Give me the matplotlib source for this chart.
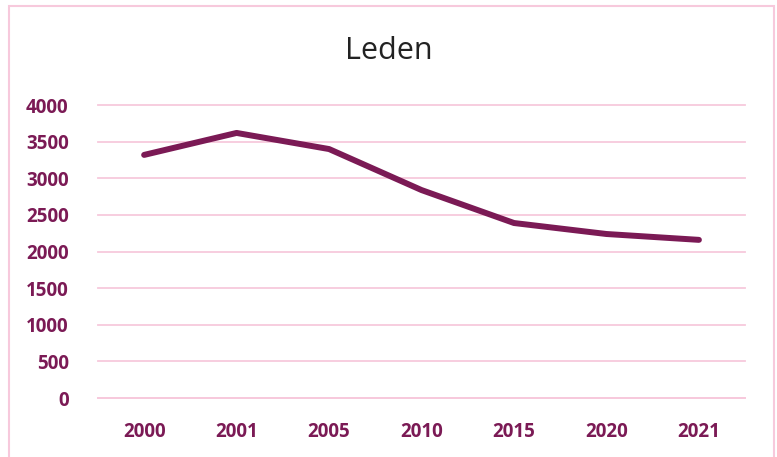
import matplotlib
matplotlib.use("Agg")
import matplotlib.pyplot as plt
from matplotlib.patches import Rectangle

# data
years = ["2000", "2001", "2005", "2010", "2015", "2020", "2021"]
leden = [3320, 3620, 3400, 2840, 2390, 2240, 2160]
yticks = [0, 500, 1000, 1500, 2000, 2500, 3000, 3500, 4000]

line_col = "#7B1A55"
grid_col = "#F7C9DC"

fig = plt.figure(figsize=(7.77, 4.57), dpi=100)
ax = fig.add_axes([0.126, 0.129, 0.833, 0.641])

x = range(len(years))
ax.plot(x, leden, color=line_col, linewidth=4.3, solid_capstyle="round", solid_joinstyle="round", zorder=3)

ax.set_xlim(-0.5, len(years) - 0.5)
ax.set_ylim(0, 4000)
ax.set_yticks(yticks)
ax.set_xticks(list(x))
ax.set_xticklabels(years)
ax.grid(axis="y", color=grid_col, linewidth=1.3, clip_on=False)
ax.set_axisbelow(True)
for s in ax.spines.values():
    s.set_visible(False)
ax.spines["bottom"].set_visible(True)
ax.spines["bottom"].set_color(grid_col)
ax.spines["bottom"].set_linewidth(1.3)
ax.tick_params(length=0, labelsize=13.5, labelcolor=line_col, pad=21)
ax.tick_params(axis="x", pad=17)
for lab in ax.get_xticklabels() + ax.get_yticklabels():
    lab.set_fontweight("bold")
    lab.set_family("Open Sans")

fig.text(0.5, 0.888, "Leden", ha="center", va="center", fontsize=22, family="Open Sans", color="#222222")

# outer border
fig.patches.append(Rectangle((9 / 777, -0.02), 765 / 777, 1.02 - 6 / 457, transform=fig.transFigure,
                             fill=False, edgecolor=grid_col, linewidth=1.5))

fig.savefig("out.png", dpi=100)
